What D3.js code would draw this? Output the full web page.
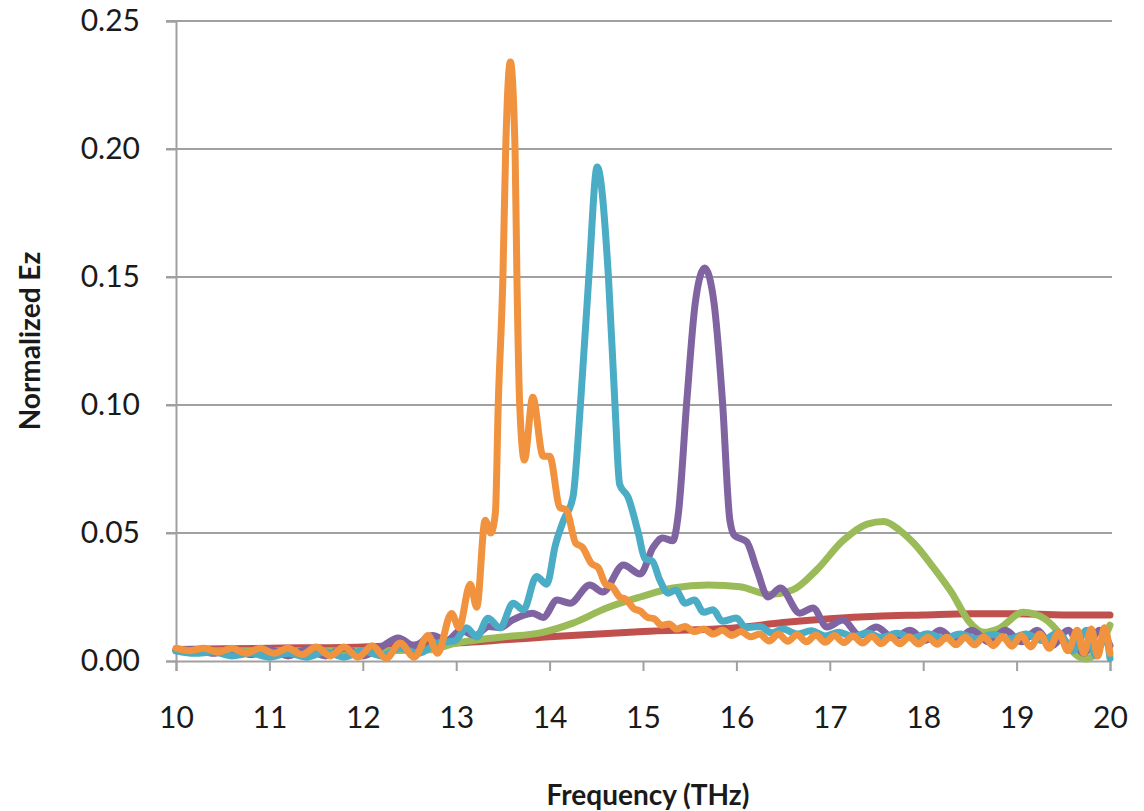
<!DOCTYPE html>
<html>
<head>
<meta charset="utf-8">
<script src="https://cdn.jsdelivr.net/npm/d3@7"></script>
<style>
  body { margin: 0; background: #fff; }
  svg text { font-family: Lato, "Open Sans", sans-serif; fill: #1a1a1a; }
</style>
</head>
<body>
<svg width="1144" height="811"></svg>
<script>
// values, [frequency THz, normalized Ez]
const redData = [[10,0.0045],[11,0.005],[12,0.0055],[13,0.007],[14,0.0095],[15,0.0115],[16,0.013],[16.5,0.015],[17,0.0165],[17.5,0.0175],[18,0.018],[18.5,0.0185],[19,0.0185],[19.5,0.018],[20,0.018]]

const greenData = [[10,0.004],[11,0.004],[12,0.004],[12.69,0.0043],[13,0.007],[13.5,0.0094],[13.9,0.011],[14.25,0.0148],[14.61,0.0207],[14.97,0.025],[15.32,0.0285],[15.7,0.0297],[16.04,0.029],[16.35,0.026],[16.6,0.0277],[16.86,0.0356],[17.14,0.047],[17.4,0.0535],[17.58,0.0545],[17.75,0.051],[17.9,0.046],[18.1,0.037],[18.3,0.027],[18.5,0.015],[18.65,0.0112],[18.8,0.0125],[19.07,0.019],[19.3,0.0165],[19.5,0.009],[19.62,0.003],[19.75,0.0008],[19.9,0.006],[20,0.014]]

const purpleData = [[10,0.004],[10.2,0.0045],[10.4,0.003],[10.6,0.0045],[10.8,0.0025],[11,0.0045],[11.2,0.002],[11.4,0.0045],[11.6,0.002],[11.8,0.005],[12,0.002],[12.2,0.0055],[12.38,0.009],[12.55,0.006],[12.75,0.01],[12.9,0.008],[13.05,0.012],[13.2,0.01],[13.35,0.0135],[13.47,0.013],[13.6,0.016],[13.82,0.0187],[13.93,0.017],[14.08,0.0238],[14.22,0.0226],[14.43,0.0297],[14.57,0.027],[14.79,0.0375],[14.97,0.034],[15.11,0.0445],[15.21,0.048],[15.32,0.047],[15.38,0.058],[15.47,0.102],[15.56,0.14],[15.66,0.1535],[15.76,0.14],[15.85,0.102],[15.93,0.055],[15.98,0.049],[16.11,0.0466],[16.22,0.0356],[16.34,0.025],[16.47,0.0285],[16.68,0.0187],[16.82,0.0207],[16.97,0.0133],[17.14,0.016],[17.32,0.01],[17.5,0.0133],[17.68,0.009],[17.86,0.012],[18.02,0.008],[18.18,0.012],[18.35,0.008],[18.52,0.012],[18.7,0.0075],[18.88,0.012],[19.05,0.0075],[19.22,0.012],[19.38,0.006],[19.55,0.012],[19.72,0.003],[19.89,0.012],[20,0.006]]

const tealData = [[10,0.004],[10.2,0.003],[10.4,0.0035],[10.6,0.002],[10.8,0.003],[11,0.0015],[11.2,0.003],[11.4,0.0015],[11.6,0.0035],[11.8,0.0015],[12,0.004],[12.2,0.002],[12.4,0.005],[12.6,0.003],[12.8,0.007],[12.99,0.008],[13.11,0.013],[13.22,0.0094],[13.34,0.0167],[13.47,0.013],[13.61,0.0226],[13.72,0.02],[13.86,0.033],[13.97,0.03],[14.06,0.045],[14.15,0.055],[14.25,0.064],[14.33,0.1],[14.42,0.15],[14.51,0.193],[14.63,0.15],[14.7,0.1],[14.75,0.069],[14.84,0.064],[14.95,0.05],[15.02,0.04],[15.1,0.039],[15.18,0.0316],[15.27,0.0265],[15.35,0.0277],[15.45,0.0226],[15.55,0.0238],[15.65,0.019],[15.75,0.02],[15.85,0.0155],[16,0.0168],[16.1,0.013],[16.25,0.0135],[16.38,0.011],[16.5,0.0125],[16.65,0.0105],[16.8,0.0118],[16.95,0.0098],[17.1,0.0112],[17.25,0.0095],[17.4,0.011],[17.55,0.0092],[17.72,0.0108],[17.88,0.009],[18.05,0.0106],[18.22,0.0088],[18.4,0.0105],[18.57,0.0087],[18.75,0.0104],[18.92,0.0086],[19.1,0.0105],[19.27,0.008],[19.45,0.011],[19.6,0.004],[19.75,0.012],[19.85,0.002],[19.95,0.011],[20,0.001]]

const orangeData = [[10,0.005],[10.15,0.004],[10.3,0.005],[10.45,0.0035],[10.6,0.005],[10.75,0.003],[10.9,0.005],[11.05,0.003],[11.2,0.005],[11.35,0.0025],[11.5,0.0055],[11.65,0.002],[11.8,0.0055],[11.95,0.0015],[12.1,0.006],[12.25,0.001],[12.4,0.007],[12.55,0.0015],[12.7,0.01],[12.8,0.003],[12.95,0.0186],[13.03,0.013],[13.15,0.03],[13.22,0.021],[13.31,0.055],[13.37,0.05],[13.42,0.058],[13.45,0.1],[13.5,0.15],[13.53,0.2],[13.58,0.234],[13.63,0.2],[13.65,0.15],[13.68,0.1],[13.73,0.0785],[13.82,0.103],[13.93,0.08],[14,0.08],[14.11,0.06],[14.18,0.059],[14.28,0.046],[14.35,0.0445],[14.45,0.038],[14.52,0.0365],[14.6,0.03],[14.67,0.029],[14.75,0.025],[14.82,0.024],[14.9,0.0205],[14.97,0.0195],[15.05,0.017],[15.12,0.0165],[15.2,0.014],[15.28,0.0145],[15.36,0.0125],[15.45,0.0135],[15.55,0.0115],[15.65,0.0125],[15.75,0.0105],[15.85,0.012],[15.95,0.01],[16.05,0.0115],[16.15,0.0095],[16.25,0.0105],[16.35,0.0078],[16.45,0.0105],[16.55,0.0077],[16.65,0.0103],[16.75,0.0075],[16.85,0.0102],[16.95,0.0073],[17.05,0.01],[17.15,0.0072],[17.25,0.0098],[17.35,0.007],[17.45,0.0097],[17.55,0.0068],[17.65,0.0095],[17.75,0.0067],[17.85,0.0094],[17.95,0.0066],[18.05,0.0093],[18.15,0.0065],[18.25,0.0093],[18.35,0.0064],[18.45,0.0093],[18.55,0.0063],[18.65,0.0094],[18.75,0.006],[18.85,0.0096],[18.95,0.0058],[19.05,0.01],[19.15,0.0055],[19.25,0.0105],[19.35,0.005],[19.45,0.011],[19.55,0.004],[19.65,0.012],[19.72,0.003],[19.8,0.0125],[19.87,0.002],[19.94,0.013],[20,0.003]]

const xTicks = [10, 11, 12, 13, 14, 15, 16, 17, 18, 19, 20]
const yTicks = [0, 0.05, 0.10, 0.15, 0.20, 0.25]

// drawing order = excel series order, orange ends up on top
const series = [
  {data: redData, color: '#C0504D'},
  {data: greenData, color: '#9BBB59'},
  {data: purpleData, color: '#8064A2'},
  {data: tealData, color: '#4BACC6'},
  {data: orangeData, color: '#F0923E'},
]

const svg = d3.select('svg')
const plotLeft = 176, plotRight = 1110, plotTop = 21, plotBottom = 661

const x = d3.scaleLinear().domain([10, 20]).range([plotLeft, plotRight])
const y = d3.scaleLinear().domain([0, 0.25]).range([plotBottom, plotTop])

// gridlines
svg.append('g').selectAll('line')
  .data(yTicks.filter(d => d > 0))
  .enter().append('line')
  .attr('x1', plotLeft - 10).attr('x2', plotRight + 2)
  .attr('y1', d => y(d)).attr('y2', d => y(d))
  .attr('stroke', '#a0a0a0').attr('stroke-width', 2)

// y axis
const yAxis = svg.append('g').attr('transform', `translate(${plotLeft},0)`)
  .call(d3.axisLeft(y).tickValues(yTicks).tickFormat(d3.format('.2f')).tickSize(10).tickPadding(26))
yAxis.select('.domain').attr('stroke', '#a0a0a0').attr('stroke-width', 2)
yAxis.selectAll('.tick line').attr('stroke', '#a0a0a0').attr('stroke-width', 2)
yAxis.selectAll('text').style('font-size', '30px').attr('fill', '#1a1a1a')

// x axis
const xAxis = svg.append('g').attr('transform', `translate(0,${plotBottom})`)
  .call(d3.axisBottom(x).tickValues(xTicks).tickFormat(d3.format('d')).tickSize(10).tickPadding(36))
xAxis.select('.domain').attr('stroke', '#a0a0a0').attr('stroke-width', 2)
xAxis.selectAll('.tick line').attr('stroke', '#a0a0a0').attr('stroke-width', 2)
xAxis.selectAll('text').style('font-size', '30px').attr('fill', '#1a1a1a')

const line = d3.line()
  .x(d => x(d[0]))
  .y(d => y(d[1]))
  .curve(d3.curveMonotoneX)

series.forEach(s => {
  svg.append('path')
    .datum(s.data)
    .attr('d', line)
    .attr('fill', 'none')
    .attr('stroke', s.color)
    .attr('stroke-width', 7)
    .attr('stroke-linejoin', 'round')
    .attr('stroke-linecap', 'round')
})

svg.append('text').attr('x', 648).attr('y', 805)
  .attr('text-anchor', 'middle')
  .style('font-size', '28px').style('font-weight', 'bold')
  .text('Frequency (THz)')

svg.append('text')
  .attr('transform', 'translate(40,341) rotate(-90)')
  .attr('text-anchor', 'middle')
  .style('font-size', '28px').style('font-weight', 'bold')
  .text('Normalized Ez')
</script>
</body>
</html>
